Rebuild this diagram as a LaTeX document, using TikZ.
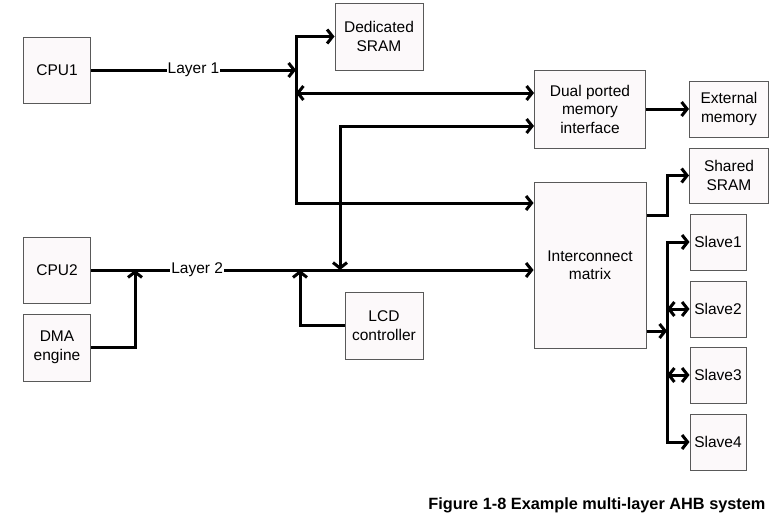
\documentclass[tikz,border=0pt]{standalone}
\usepackage{fontspec}
\setmainfont{Liberation Sans}
\usetikzlibrary{arrows.meta}

\begin{document}
\begin{tikzpicture}[x=1pt, y=-1pt,
    >={Straight Barb[length=5.5pt,width=14pt]},
    box/.style={draw=black!65, line width=1pt, fill={rgb,255:red,252;green,249;blue,250},
      align=center, inner sep=0pt, font=\fontsize{15.5}{18.5}\selectfont},
    bus/.style={line width=3pt},
    buslabel/.style={fill=white, inner sep=1pt, font=\fontsize{15.5}{18.5}\selectfont}]
    \useasboundingbox (0,0) rectangle (774,514);
    % boxes
    \node[box, minimum width=67pt, minimum height=66pt] (cpua) at (57,70) {CPU1};
    \node[box, minimum width=67pt, minimum height=66pt] (cpub) at (57,270) {CPU2};
    \node[box, minimum width=67pt, minimum height=67pt] (dma) at (57,347.5) {DMA\\engine};
    \node[box, minimum width=88pt, minimum height=67pt] (dsram) at (379,36.5) {Dedicated\\SRAM};
    \node[box, minimum width=111pt, minimum height=78pt] (dpmi) at (590,109) {Dual ported\\memory\\interface};
    \node[box, minimum width=79pt, minimum height=56pt] (extmem) at (729,109) {External\\memory};
    \node[box, minimum width=79pt, minimum height=55pt] (ssram) at (729,175.5) {Shared\\SRAM};
    \node[box, minimum width=112pt, minimum height=166pt] (matrix) at (590,265) {Interconnect\\matrix};
    \node[box, minimum width=78pt, minimum height=67pt] (lcd) at (384,325.5) {LCD\\controller};
    \node[box, minimum width=56pt, minimum height=56pt] (slavea) at (718,242) {Slave1};
    \node[box, minimum width=56pt, minimum height=56pt] (slaveb) at (718,309) {Slave2};
    \node[box, minimum width=56pt, minimum height=56pt] (slavec) at (718,375) {Slave3};
    \node[box, minimum width=56pt, minimum height=56pt] (slaved) at (718,442) {Slave4};
    \node[anchor=east, font=\fontsize{16.3}{18.5}\selectfont\bfseries] (caption) at (769,505)
      {Figure 1-8 Example multi-layer AHB system};
    % junction points
    \coordinate (busa) at (296,70);
    \coordinate (btop) at (296,36.5);
    \coordinate (bbot) at (296,203);
    \coordinate (back) at (296,93);
    \coordinate (dpin) at (340,126);
    \coordinate (tapa) at (135,270);
    \coordinate (tapb) at (300,270);
    \coordinate (tapc) at (340,270);
    \coordinate (sjog) at (667,215);
    \coordinate (sbus) at (667,331);
    % layer 1
    \draw[bus, ->] (cpua) -- (busa) node[midway, buslabel] {Layer 1};
    \draw[bus, <->] (matrix.west |- bbot) -- (bbot) -- (btop) -- (dsram.west);
    \draw[bus, <->] (back) -- (dpmi.west |- back);
    % layer 2
    \draw[bus, ->] (cpub) -- (matrix.west |- cpub) node[pos=0.24, buslabel] {Layer 2};
    \draw[bus, ->] (dma) -| (tapa);
    \draw[bus, ->] (lcd) -| (tapb);
    \draw[bus, <->] (tapc) -- (dpin) -- (dpmi.west |- dpin);
    % memories and slaves
    \draw[bus, ->] (dpmi.east |- extmem) -- (extmem);
    \draw[bus, ->] (matrix.east |- sjog) -- (sjog) |- (ssram);
    \draw[bus, ->] (matrix.east |- sbus) -- (sbus);
    \draw[bus, ->] (sbus) |- (slavea);
    \draw[bus, <->] (sbus |- slaveb) -- (slaveb);
    \draw[bus, <->] (sbus |- slavec) -- (slavec);
    \draw[bus, ->] (sbus) |- (slaved);
\end{tikzpicture}
\end{document}
